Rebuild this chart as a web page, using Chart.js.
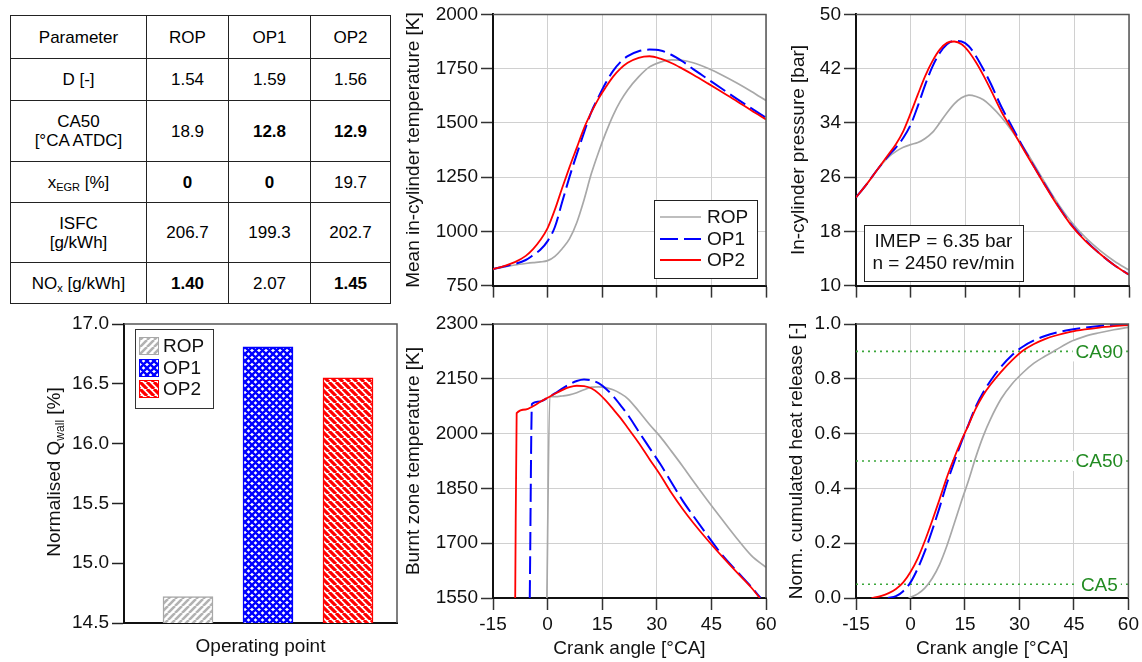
<!DOCTYPE html>
<html>
<head>
<meta charset="utf-8">
<script src="https://cdn.jsdelivr.net/npm/chart.js@4.4.1/dist/chart.umd.min.js"></script>
<style>
  html, body { margin: 0; padding: 0; background: #fff; }
  #page { position: relative; width: 1142px; height: 662px; overflow: hidden;
          font-family: 'Liberation Sans', Arial, Helvetica, sans-serif; }
  canvas { position: absolute; }
  #params { position: absolute; left: 10px; top: 15px; width: 380px;
            border-collapse: collapse; table-layout: fixed; font-size: 17px; color: #000; }
  #params td { border: 1px solid #222; text-align: center; vertical-align: middle;
               padding: 0; line-height: 19px; }
  #params td.b { font-weight: bold; }
  #params sub { font-size: 11px; vertical-align: -3px; line-height: 0; }
</style>
</head>
<body>
<div id="page">
  <table id="params"></table>
  <canvas id="qwall" width="400" height="357" style="left:0;top:305px"></canvas>
  <canvas id="temp" width="375" height="300" style="left:400px;top:0"></canvas>
  <canvas id="press" width="367" height="300" style="left:775px;top:0"></canvas>
  <canvas id="burnt" width="395" height="362" style="left:400px;top:300px"></canvas>
  <canvas id="heat" width="367" height="362" style="left:775px;top:300px"></canvas>
</div>
<script>
// ---------------- operating point table ----------------
const tableColumns   = ['Parameter', 'ROP', 'OP1', 'OP2'];
const tableRowLabels = ['D [-]', 'CA50<br>[°CA ATDC]', 'x<sub>EGR</sub> [%]', 'ISFC<br>[g/kWh]', 'NO<sub>x</sub> [g/kWh]'];
const paramD    = ['1.54', '1.59', '1.56'];
const paramCA50 = ['18.9', '12.8', '12.9'];
const paramEGR  = ['0', '0', '19.7'];
const paramISFC = ['206.7', '199.3', '202.7'];
const paramNOx  = ['1.40', '2.07', '1.45'];
const tableBold = [[0, 0, 0], [0, 1, 1], [1, 1, 0], [0, 0, 0], [1, 0, 1]];

// ---------------- wall heat loss bars ----------------
const opNames     = ['ROP', 'OP1', 'OP2'];
const opPositions = [1, 2, 3];
const qwallValues = [14.72, 16.81, 16.55];

// ---------------- crank-angle resolved curves ----------------
const crankAngles = [-15, -12, -9, -6, -4, -2, 0, 2, 4, 6, 8, 10, 12, 14, 16, 18, 20, 22, 25, 28, 31, 34, 37, 40, 44, 48, 52, 56, 60];

const tempROP = [825, 836, 845, 852, 856, 859, 865, 885, 920, 965, 1040, 1145, 1265, 1365, 1455, 1535, 1600, 1652, 1712, 1758, 1780, 1790, 1788, 1777, 1752, 1720, 1684, 1645, 1603];
const tempOP1 = [826, 838, 850, 868, 890, 915, 955, 1020, 1135, 1250, 1355, 1455, 1550, 1620, 1685, 1740, 1780, 1808, 1830, 1838, 1834, 1814, 1784, 1748, 1702, 1656, 1611, 1567, 1524];
const tempOP2 = [826, 840, 858, 887, 918, 960, 1015, 1100, 1200, 1295, 1385, 1475, 1548, 1612, 1665, 1713, 1750, 1777, 1800, 1807, 1796, 1776, 1750, 1722, 1682, 1641, 1600, 1557, 1516];

const pressROP = [23.0, 25.0, 27.2, 29.0, 29.8, 30.4, 30.8, 31.1, 31.7, 32.6, 34.0, 35.5, 36.8, 37.7, 38.1, 37.9, 37.4, 36.5, 34.8, 32.7, 30.4, 27.8, 25.1, 22.5, 19.5, 17.1, 15.2, 13.6, 12.3];
const pressOP1 = [23.0, 25.0, 27.2, 29.2, 30.4, 31.8, 33.7, 36.5, 39.6, 42.3, 44.3, 45.6, 46.1, 46.0, 45.3, 43.8, 41.9, 39.8, 36.3, 33.3, 30.3, 27.5, 24.8, 22.2, 19.1, 16.7, 14.7, 13.0, 11.6];
const pressOP2 = [23.0, 25.0, 27.2, 29.4, 30.9, 32.8, 35.4, 38.2, 40.9, 43.1, 44.8, 45.8, 46.0, 45.6, 44.5, 42.9, 41.0, 38.9, 35.6, 32.9, 30.1, 27.4, 24.7, 22.1, 19.0, 16.6, 14.7, 13.0, 11.6];

const burntAngleROP = [-0.2, 0.6, 2, 4, 6, 8, 10, 12, 14, 16, 18, 20, 22, 25, 28, 31, 34, 37, 40, 44, 48, 52, 56, 60];
const burntROP      = [1550, 2101, 2101, 2103, 2106, 2112, 2120, 2127, 2128, 2126, 2120, 2110, 2096, 2062, 2025, 1991, 1952, 1912, 1870, 1816, 1764, 1713, 1666, 1634];
const burntAngleOP1 = [-4.9, -4.3, -2, 0, 2, 4, 6, 8, 10, 12, 14, 16, 18, 20, 22, 25, 28, 31, 34, 37, 40, 44, 48, 52, 56, 58.5];
const burntOP1      = [1550, 2081, 2088, 2098, 2110, 2123, 2135, 2144, 2148, 2146, 2138, 2123, 2103, 2078, 2052, 2006, 1961, 1916, 1867, 1818, 1775, 1720, 1667, 1623, 1580, 1550];
const burntAngleOP2 = [-8.9, -8.5, -6, -4, -2, 0, 2, 4, 6, 8, 10, 12, 14, 16, 18, 20, 22, 25, 28, 31, 34, 37, 40, 44, 48, 52, 56, 58.3];
const burntOP2      = [1550, 2056, 2066, 2075, 2087, 2098, 2109, 2119, 2127, 2131, 2130, 2124, 2110, 2090, 2067, 2043, 2016, 1975, 1930, 1886, 1838, 1795, 1756, 1708, 1663, 1620, 1578, 1550];

const heatAngleROP = [-0.5, 2, 4, 6, 8, 10, 12, 14, 16, 18, 20, 22, 25, 28, 31, 34, 37, 40, 44, 48, 52, 56, 60];
const heatROP      = [0, 0.015, 0.037, 0.072, 0.122, 0.19, 0.27, 0.352, 0.43, 0.515, 0.59, 0.652, 0.728, 0.782, 0.823, 0.857, 0.882, 0.905, 0.935, 0.955, 0.968, 0.979, 0.988];
const heatAngleOP1 = [-6.2, -4, -2, 0, 2, 4, 6, 8, 10, 12, 14, 16, 18, 20, 22, 25, 28, 31, 34, 37, 40, 44, 48, 52, 56, 60];
const heatOP1      = [0, 0.007, 0.025, 0.057, 0.108, 0.172, 0.248, 0.33, 0.418, 0.495, 0.568, 0.634, 0.699, 0.75, 0.792, 0.845, 0.887, 0.918, 0.94, 0.956, 0.968, 0.979, 0.987, 0.993, 0.997, 1.0];
const heatAngleOP2 = [-10.7, -8, -6, -4, -2, 0, 2, 4, 6, 8, 10, 12, 14, 16, 18, 20, 22, 25, 28, 31, 34, 37, 40, 44, 48, 52, 56, 60];
const heatOP2      = [0, 0.008, 0.018, 0.033, 0.057, 0.095, 0.145, 0.21, 0.283, 0.36, 0.44, 0.51, 0.574, 0.632, 0.692, 0.74, 0.778, 0.826, 0.868, 0.903, 0.927, 0.945, 0.958, 0.971, 0.98, 0.987, 0.992, 0.996];

const burnMarkValues = [0.05, 0.5, 0.9];
const burnMarkLabels = ['CA5', 'CA50', 'CA90'];

const noteLines = ['IMEP = 6.35 bar', 'n = 2450 rev/min'];

// ---------------- table ----------------
const colWidths  = [136, 82, 82, 80];
const rowHeights = [43, 42, 61, 41, 60, 41];
(function buildTable() {
  const rows = [paramD, paramCA50, paramEGR, paramISFC, paramNOx];
  let html = '<colgroup>' + colWidths.map(w => `<col style="width:${w}px">`).join('') + '</colgroup>';
  html += `<tr style="height:${rowHeights[0]}px">` + tableColumns.map(c => `<td>${c}</td>`).join('') + '</tr>';
  rows.forEach((vals, r) => {
    html += `<tr style="height:${rowHeights[r + 1]}px"><td>${tableRowLabels[r]}</td>` +
      vals.map((v, c) => `<td${tableBold[r][c] ? ' class="b"' : ''}>${v}</td>`).join('') + '</tr>';
  });
  document.getElementById('params').innerHTML = html;
})();

// ---------------- shared chart styling ----------------
const FONT = "'Liberation Sans', Arial, Helvetica, sans-serif";
Chart.defaults.font.family = FONT;
Chart.defaults.font.size = 19;
Chart.defaults.color = '#111';

const seriesStyle = {
  ROP: { borderColor: '#a8a8a8', borderWidth: 1.7, borderDash: [], order: 3 },
  OP1: { borderColor: '#0000ff', borderWidth: 2, borderDash: [18, 6], order: 2 },
  OP2: { borderColor: '#ff0000', borderWidth: 1.8, borderDash: [], order: 1 }
};

function pairs(xs, ys) { return xs.map((x, i) => ({ x, y: ys[i] })); }

function curveSet(name, xs, ys) {
  return Object.assign({ label: name, data: pairs(xs, ys), pointRadius: 0,
    cubicInterpolationMode: 'monotone', fill: false }, seriesStyle[name]);
}

// top and right edges of the plot box
const framePlugin = {
  id: 'frame',
  afterDatasetsDraw(chart) {
    const { ctx, chartArea: a } = chart;
    ctx.save();
    ctx.strokeStyle = '#555';
    ctx.lineWidth = 1.5;
    ctx.beginPath();
    ctx.moveTo(a.left, a.top);
    ctx.lineTo(a.right, a.top);
    ctx.lineTo(a.right, a.bottom);
    ctx.stroke();
    ctx.restore();
  }
};

const gridOpts = { color: '#d0d0d0', lineWidth: 1, tickLength: 12, tickColor: '#333', tickWidth: 1.5 };
const borderOpts = { display: true, color: '#111', width: 2 };

function lineChart(id, o) {
  return new Chart(document.getElementById(id), {
    type: 'line',
    data: { datasets: o.datasets },
    options: {
      responsive: false, animation: false, devicePixelRatio: 1, events: [],
      layout: { padding: o.padding },
      plugins: { legend: { display: false }, tooltip: { enabled: false } },
      scales: {
        x: {
          type: 'linear', min: -15, max: 60,
          ticks: { stepSize: 15, display: o.xLabels, padding: 3, color: '#111', callback: v => String(v) },
          grid: gridOpts, border: borderOpts,
          title: { display: o.xLabels, text: 'Crank angle [°CA]', color: '#111', padding: { top: 0, bottom: 2 } },
          afterFit: s => { s.height = o.xHeight; }
        },
        y: {
          type: 'linear', min: o.yMin, max: o.yMax,
          ticks: { stepSize: o.yStep, padding: 3, color: '#111', callback: o.yFormat || (v => String(v)) },
          grid: gridOpts, border: borderOpts,
          title: { display: true, text: o.yTitle, color: '#111', padding: { top: o.yTitlePad, bottom: 0 } },
          afterFit: s => { s.width = o.yWidth; }
        }
      }
    },
    plugins: [framePlugin].concat(o.plugins || [])
  });
}

// ---------------- legend for the temperature panel ----------------
const lineLegend = {
  id: 'lineLegend',
  afterDraw(chart) {
    const ctx = chart.ctx;
    const bx = 254, by = 200, bw = 103, bh = 78;
    ctx.save();
    ctx.fillStyle = '#fff';
    ctx.fillRect(bx, by, bw, bh);
    ctx.strokeStyle = '#222';
    ctx.lineWidth = 1;
    ctx.strokeRect(bx + 0.5, by + 0.5, bw, bh);
    const rows = [217, 239, 260];
    ['ROP', 'OP1', 'OP2'].forEach((name, i) => {
      const ds = chart.data.datasets.find(d => d.label === name);
      ctx.strokeStyle = ds.borderColor;
      ctx.lineWidth = ds.borderWidth;
      ctx.setLineDash(ds.borderDash || []);
      ctx.beginPath();
      ctx.moveTo(260, rows[i]);
      ctx.lineTo(301, rows[i]);
      ctx.stroke();
      ctx.setLineDash([]);
      ctx.fillStyle = '#111';
      ctx.font = '19px ' + FONT;
      ctx.textBaseline = 'middle';
      ctx.textAlign = 'left';
      ctx.fillText(name, 307, rows[i] + 1);
    });
    ctx.restore();
  }
};

// ---------------- operating condition note ----------------
const notePlugin = {
  id: 'note',
  afterDraw(chart) {
    const ctx = chart.ctx;
    const bx = 89, by = 225, bw = 159, bh = 56;
    ctx.save();
    ctx.fillStyle = '#fff';
    ctx.fillRect(bx, by, bw, bh);
    ctx.strokeStyle = '#222';
    ctx.lineWidth = 1;
    ctx.strokeRect(bx + 0.5, by + 0.5, bw, bh);
    ctx.fillStyle = '#111';
    ctx.font = '19px ' + FONT;
    ctx.textAlign = 'center';
    ctx.textBaseline = 'middle';
    ctx.fillText(noteLines[0], bx + bw / 2, 242);
    ctx.fillText(noteLines[1], bx + bw / 2, 264);
    ctx.restore();
  }
};

// ---------------- burn point labels ----------------
const burnLabels = {
  id: 'burnLabels',
  afterDatasetsDraw(chart) {
    const { ctx, scales } = chart;
    ctx.save();
    ctx.font = '19px ' + FONT;
    ctx.textAlign = 'center';
    ctx.textBaseline = 'middle';
    const cx = scales.x.getPixelForValue(52);
    burnMarkValues.forEach((v, i) => {
      const y = scales.y.getPixelForValue(v);
      const w = ctx.measureText(burnMarkLabels[i]).width;
      ctx.fillStyle = '#fff';
      ctx.fillRect(cx - w / 2 - 3, y - 10, w + 6, 20);
      ctx.fillStyle = '#228b22';
      ctx.fillText(burnMarkLabels[i], cx, y + 1);
    });
    ctx.restore();
  }
};

// ---------------- line panels ----------------
lineChart('temp', {
  datasets: [curveSet('ROP', crankAngles, tempROP), curveSet('OP1', crankAngles, tempOP1), curveSet('OP2', crankAngles, tempOP2)],
  padding: { left: 0, top: 13, right: 9, bottom: 0 },
  xLabels: false, xHeight: 13, yWidth: 93, yTitlePad: 2.6,
  yMin: 750, yMax: 2000, yStep: 250, yTitle: 'Mean in-cylinder temperature [K]',
  plugins: [lineLegend]
});

lineChart('press', {
  datasets: [curveSet('ROP', crankAngles, pressROP), curveSet('OP1', crankAngles, pressOP1), curveSet('OP2', crankAngles, pressOP2)],
  padding: { left: 0, top: 13, right: 13, bottom: 0 },
  xLabels: false, xHeight: 13, yWidth: 81, yTitlePad: 12,
  yMin: 10, yMax: 50, yStep: 8, yTitle: 'In-cylinder pressure [bar]',
  plugins: [notePlugin]
});

lineChart('burnt', {
  datasets: [curveSet('ROP', burntAngleROP, burntROP), curveSet('OP1', burntAngleOP1, burntOP1), curveSet('OP2', burntAngleOP2, burntOP2)],
  padding: { left: 0, top: 24, right: 29, bottom: 0 },
  xLabels: true, xHeight: 64, yWidth: 93, yTitlePad: 2.6,
  yMin: 1550, yMax: 2300, yStep: 150, yTitle: 'Burnt zone temperature [K]'
});

const markSets = burnMarkValues.map((v, i) => ({
  label: burnMarkLabels[i], data: [{ x: -15, y: v }, { x: 60, y: v }],
  borderColor: '#3aa63a', borderWidth: 1.6, borderDash: [2, 4], pointRadius: 0, order: 10
}));

lineChart('heat', {
  datasets: [curveSet('ROP', heatAngleROP, heatROP), curveSet('OP1', heatAngleOP1, heatOP1), curveSet('OP2', heatAngleOP2, heatOP2)].concat(markSets),
  padding: { left: 0, top: 24, right: 13, bottom: 0 },
  xLabels: true, xHeight: 64, yWidth: 81, yTitlePad: 10.6,
  yMin: 0, yMax: 1, yStep: 0.2, yFormat: v => v.toFixed(1), yTitle: 'Norm. cumulated heat release [-]',
  plugins: [burnLabels]
});

// ---------------- bar panel ----------------
const barCanvas = document.getElementById('qwall');
const barCtx = barCanvas.getContext('2d');

function hatchTile(p, color, width, dirs) {
  const c = document.createElement('canvas');
  c.width = c.height = p;
  const g = c.getContext('2d');
  g.fillStyle = '#fff';
  g.fillRect(0, 0, p, p);
  g.strokeStyle = color;
  g.lineWidth = width;
  g.beginPath();
  dirs.forEach(d => {
    for (const o of [-p, 0, p]) {
      if (d === '/') { g.moveTo(o, p); g.lineTo(o + p, 0); }
      else { g.moveTo(o, 0); g.lineTo(o + p, p); }
    }
  });
  g.stroke();
  return barCtx.createPattern(c, 'repeat');
}

const barFills = [
  hatchTile(7, '#b2b2b2', 2.6, ['/']),
  hatchTile(7, '#0000ff', 2.4, ['/', '\\']),
  hatchTile(7, '#ff0000', 3.2, ['\\'])
];
const barEdges = ['#a8a8a8', '#0000ff', '#ff0000'];

const barLegend = {
  id: 'barLegend',
  afterDraw(chart) {
    const ctx = chart.ctx;
    const bx = 135, by = 24, bw = 78, bh = 79;
    ctx.save();
    ctx.fillStyle = '#fff';
    ctx.fillRect(bx, by, bw, bh);
    ctx.strokeStyle = '#333';
    ctx.lineWidth = 1;
    ctx.strokeRect(bx + 0.5, by + 0.5, bw, bh);
    const rows = [32, 54, 75];
    chart.data.datasets.forEach((ds, i) => {
      ctx.fillStyle = ds.backgroundColor;
      ctx.fillRect(139, rows[i], 20, 18);
      ctx.strokeStyle = ds.borderColor;
      ctx.lineWidth = 1;
      ctx.strokeRect(139.5, rows[i] + 0.5, 19, 17);
      ctx.fillStyle = '#111';
      ctx.font = '19px ' + FONT;
      ctx.textAlign = 'left';
      ctx.textBaseline = 'middle';
      ctx.fillText(ds.label, 163, rows[i] + 10);
    });
    ctx.restore();
  }
};

// y title with subscript
const barTitle = {
  id: 'barTitle',
  afterDraw(chart) {
    const ctx = chart.ctx;
    const main = '19px ' + FONT, small = '12px ' + FONT;
    const parts = [['Normalised Q', main, 0], ['wall', small, 4], [' [%]', main, 0]];
    ctx.save();
    ctx.fillStyle = '#111';
    ctx.textBaseline = 'alphabetic';
    ctx.textAlign = 'left';
    let total = 0;
    parts.forEach(p => { ctx.font = p[1]; p.push(ctx.measureText(p[0]).width); total += p[3]; });
    ctx.translate(53, 167);
    ctx.rotate(-Math.PI / 2);
    let x = -total / 2;
    parts.forEach(p => { ctx.font = p[1]; ctx.fillText(p[0], x, 7 + p[2]); x += p[3]; });
    ctx.restore();
  }
};

new Chart(barCanvas, {
  type: 'bar',
  data: {
    datasets: opNames.map((name, i) => ({
      label: name,
      data: [{ x: opPositions[i], y: qwallValues[i] }],
      backgroundColor: barFills[i],
      borderColor: barEdges[i],
      borderWidth: 1.5,
      borderSkipped: 'start',
      barThickness: 50,
      grouped: false
    }))
  },
  options: {
    responsive: false, animation: false, devicePixelRatio: 1, events: [],
    layout: { padding: { left: 0, top: 19, right: 3, bottom: 0 } },
    plugins: { legend: { display: false }, tooltip: { enabled: false } },
    scales: {
      x: {
        type: 'linear', min: 0.2, max: 3.6125, offset: false,
        ticks: { display: false },
        grid: { display: true, drawOnChartArea: false, drawTicks: false, offset: false },
        border: borderOpts,
        title: { display: true, text: 'Operating point', color: '#111', padding: { top: 0, bottom: 3.6 } },
        afterFit: s => { s.height = 39; }
      },
      y: {
        type: 'linear', min: 14.5, max: 17.0,
        ticks: { stepSize: 0.5, padding: 3, color: '#111', callback: v => v.toFixed(1) },
        grid: { drawOnChartArea: false, tickLength: 12, tickColor: '#222', tickWidth: 1.5 },
        border: borderOpts,
        title: { display: false },
        afterFit: s => { s.width = 124; }
      }
    }
  },
  plugins: [framePlugin, barLegend, barTitle]
});
</script>
</body>
</html>
